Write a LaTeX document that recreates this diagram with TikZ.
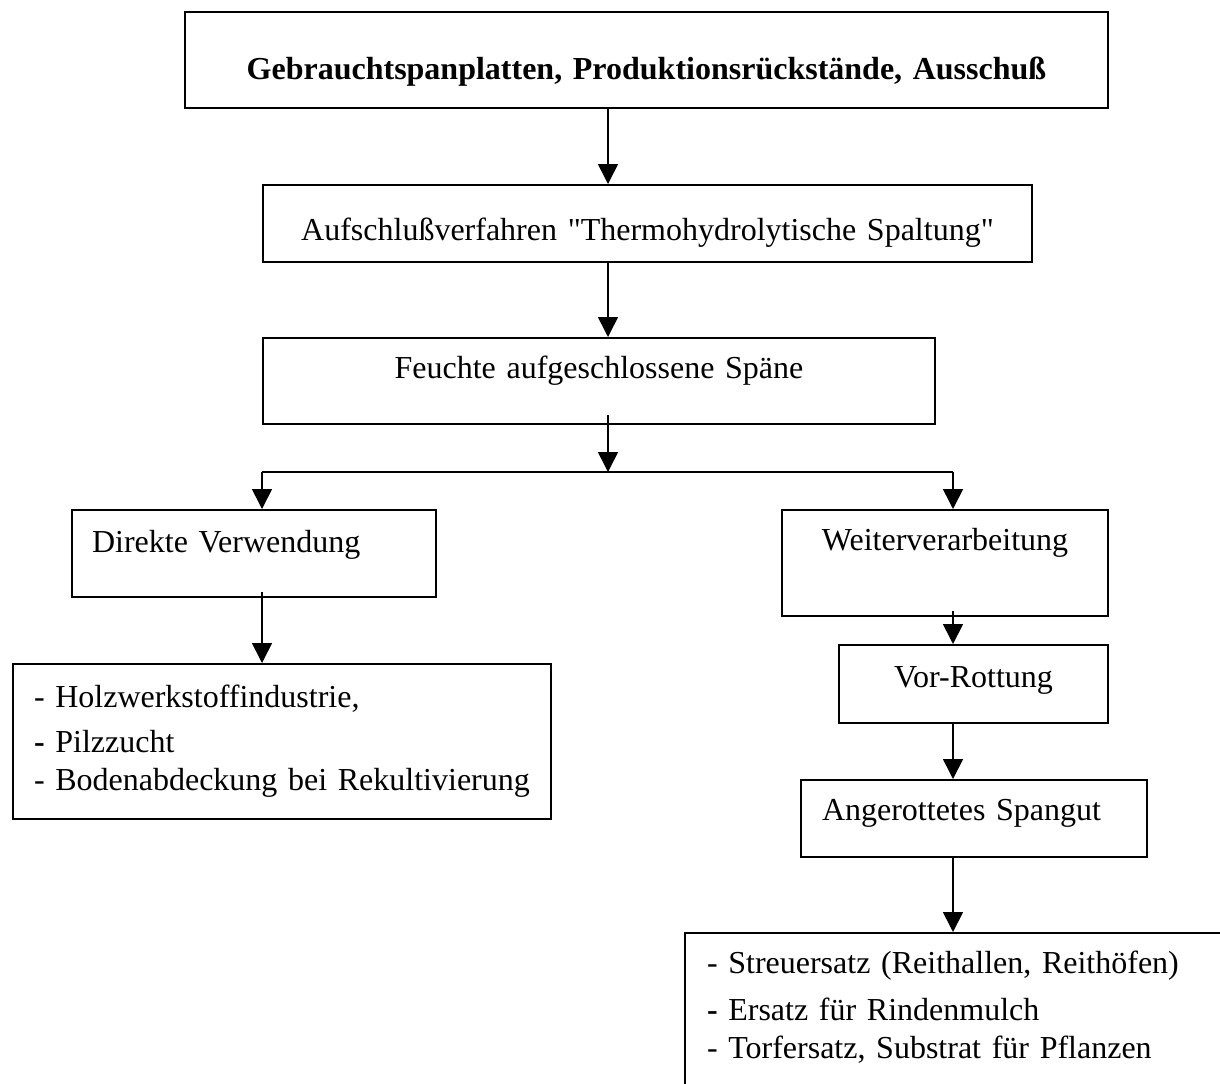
\documentclass[tikz,border=0pt]{standalone}
\usepackage{fontspec}
\setmainfont{Liberation Serif}
\usetikzlibrary{arrows.meta}
\tikzset{%
kasten/.style={draw, line width=1pt, rectangle, anchor=north west, inner ysep=0pt, font=\fontsize{16}{19}\selectfont},
zentriert/.style={kasten, align=center, inner xsep=0pt},
buendig/.style={kasten, align=left, inner xsep=10.5pt},
pfeil/.style={draw, line width=0.8pt, -{Triangle[width=10pt,length=10pt]}}
}
\begin{document}
\begin{tikzpicture}[x=0.5pt, y=-0.5pt]
	\useasboundingbox (0,0) rectangle (1220,1083);
	\clip (0,0) rectangle (1220,1083);
	\node[zentriert, text width=461.5pt, text height=33.5pt, text depth=14.5pt] (quelle) at (184,11) {\bfseries Gebrauchtspanplatten, Produktionsrückstände, Ausschuß};
	\node[zentriert, text width=384.5pt, text height=27.5pt, text depth=11pt] (aufschluss) at (262,184) {Aufschlußverfahren \textquotedbl Thermohydrolytische Spaltung\textquotedbl};
	\node[zentriert, text width=336pt, text height=20pt, text depth=23pt] (spaene) at (262,337) {Feuchte aufgeschlossene Späne};
	\node[buendig, text width=162pt, inner xsep=10pt, text height=21pt, text depth=22.5pt] (direkt) at (71,509) {Direkte Verwendung};
	\node[zentriert, text width=163pt, text height=20pt, text depth=33pt] (weiter) at (781,509) {Weiterverarbeitung};
	\node[buendig, text width=248pt, text height=21.5pt, text depth=56pt] (nutzung) at (12,663) {- Holzwerkstoffindustrie,\\[3.5pt] {\bfseries -} Pilzzucht\\ - Bodenabdeckung bei Rekultivierung};
	\node[zentriert, text width=134.5pt, text height=21pt, text depth=18pt] (vorrott) at (838,644) {Vor-Rottung};
	\node[buendig, text width=152pt, text height=20pt, text depth=18.5pt] (spangut) at (800,779) {Angerottetes Spangut};
	\node[buendig, text width=278pt, inner xsep=11pt, text height=20pt, text depth=80pt] (einsatz) at (684,932) {- Streuersatz (Reithallen, Reithöfen)\\[4.5pt] {\bfseries -} Ersatz für Rindenmulch\\ - Torfersatz, Substrat für Pflanzen};

	\coordinate (achse) at (608,0);
	\coordinate (gabelL) at (262,472);
	\coordinate (gabelR) at (953,472);

	\path[pfeil] (quelle.south -| achse) -- (aufschluss.north -| achse);
	\path[pfeil] (aufschluss.south -| achse) -- (spaene.north -| achse);
	\path[pfeil] ([yshift=5pt]spaene.south -| achse) -- (gabelL -| achse);
	\draw[line width=0.8pt] (gabelL) -- (gabelR);
	\path[pfeil] (gabelL) -- (gabelL |- direkt.north);
	\path[pfeil] (gabelR) -- (gabelR |- weiter.north);
	\path[pfeil] ([yshift=3pt]direkt.south -| gabelL) -- (gabelL |- nutzung.north);
	\path[pfeil] ([yshift=3pt]weiter.south -| gabelR) -- (gabelR |- vorrott.north);
	\path[pfeil] (vorrott.south -| gabelR) -- (gabelR |- spangut.north);
	\path[pfeil] (spangut.south -| gabelR) -- (gabelR |- einsatz.north);
\end{tikzpicture}
\end{document}
